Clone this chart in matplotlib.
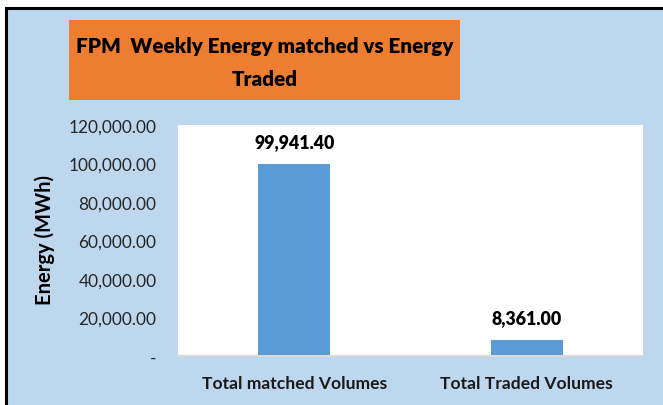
import matplotlib
matplotlib.use('Agg')
import matplotlib.pyplot as plt
from matplotlib.patches import Rectangle
from matplotlib.ticker import FuncFormatter

categories = ['Total matched Volumes', 'Total Traded Volumes']
values = [99941.40, 8361.00]
yticks = [0, 20000, 40000, 60000, 80000, 100000, 120000]

bg = '#BDD7EE'
orange = '#ED7D31'
bar_col = '#5B9BD5'

plt.rcParams['font.family'] = ['Lato', 'DejaVu Sans']

fig = plt.figure(figsize=(6.63, 4.06), dpi=100, facecolor='white')
W, H = 663, 406

# light blue chart area with black border (left/top visible)
fig.patches.append(Rectangle((5.5 / W, -0.05), 1.1, (406 - 8.5) / H + 0.05,
                             transform=fig.transFigure, facecolor=bg,
                             edgecolor='black', linewidth=2.2, zorder=0))
# orange title box
fig.patches.append(Rectangle((69 / W, (406 - 101) / H), 391 / W, 80 / H,
                             transform=fig.transFigure, facecolor=orange,
                             edgecolor='none', zorder=1))
fig.text(265 / W, (406 - 47) / H, 'FPM  Weekly Energy matched vs Energy',
         ha='center', va='center', fontsize=14.9, fontweight='heavy', color='black')
fig.text(265 / W, (406 - 80) / H, 'Traded',
         ha='center', va='center', fontsize=14.9, fontweight='heavy', color='black')

ax = fig.add_axes([178 / W, (406 - 357) / H, 465 / W, 231 / H])
ax.set_zorder(3)
ax.set_facecolor('white')
x = range(len(categories))
bars = ax.bar(x, values, width=0.31, color=bar_col, zorder=2)
ax.set_xlim(-0.5, 1.5)
ax.set_ylim(0, 120000)
ax.set_yticks(yticks)
ax.yaxis.set_major_formatter(FuncFormatter(lambda v, p: '-' if v == 0 else f'{v:,.2f}'))
ax.set_xticks(list(x))
ax.set_xticklabels(categories, fontweight='bold', fontsize=12.6, color='#1a1a1a')
ax.tick_params(axis='y', length=0, pad=15.5, labelsize=12.4, labelcolor='#262626')
ax.tick_params(axis='x', length=0, pad=14)
for s in ['top', 'right', 'left']:
    ax.spines[s].set_visible(False)
ax.spines['bottom'].set_color('#D9D9D9')
ax.spines['bottom'].set_linewidth(1.5)

for b, v in zip(bars, values):
    ax.annotate(f'{v:,.2f}', (b.get_x() + b.get_width() / 2, v),
                xytext=(0, 10), textcoords='offset points',
                ha='center', va='bottom', fontsize=12.8, fontweight='heavy', color='black')

fig.text(45 / W, (406 - 240) / H, 'Energy (MWh)', rotation=90, ha='center',
         va='center', fontsize=14.5, fontweight='bold', color='black')

fig.savefig('out.png', dpi=100, facecolor='white')
